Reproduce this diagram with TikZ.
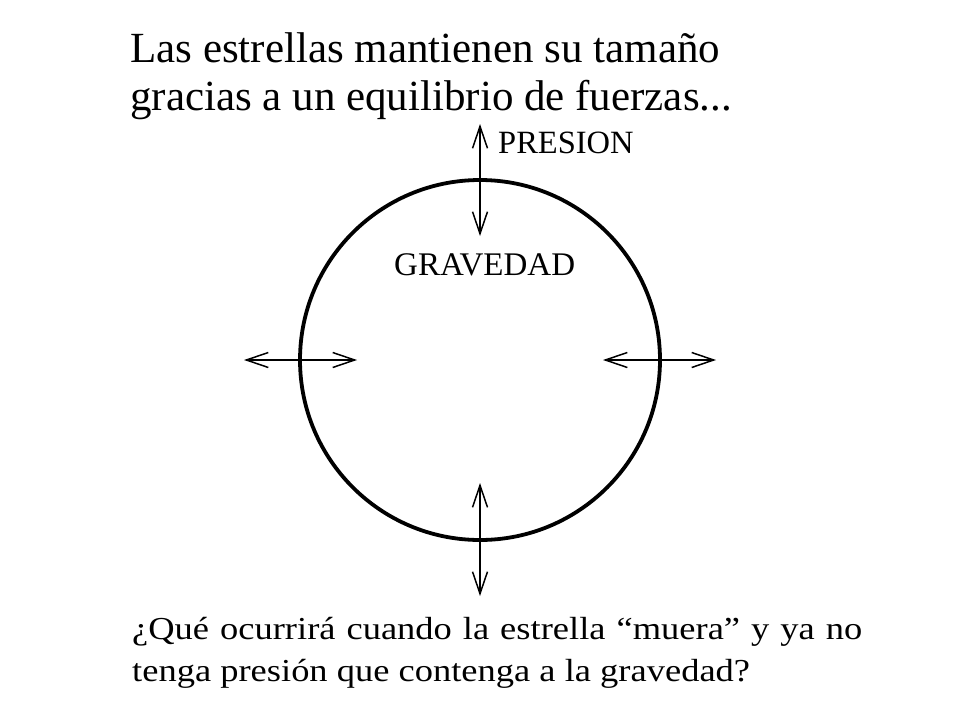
\documentclass[tikz,border=0pt]{standalone}
\usepackage{fontspec}
\setmainfont{Liberation Serif}
\newfontfamily\widefont[FakeStretch=1.14]{Liberation Serif}
\usetikzlibrary{arrows.meta,positioning}

\begin{document}
\begin{tikzpicture}[x=1pt, y=-1pt, >={Straight Barb[length=22pt,width=15pt]}]
      \useasboundingbox (0,0) rectangle (960,720);

      % Title
      \node[anchor=base west, inner sep=0pt, font=\fontsize{43}{48}\selectfont] (title1) at (130,62) {Las estrellas mantienen su tamaño};
      \node[anchor=base west, inner sep=0pt, font=\fontsize{43}{48}\selectfont] (title2) at (130,110) {gracias a un equilibrio de fuerzas...};

      % Star
      \node[circle, draw, line width=3.8pt, minimum size=360pt, inner sep=0pt, outer sep=0pt] (star) at (480,360) {};

      % Labels
      \node[anchor=base west, inner sep=0pt, font=\fontsize{32.5}{36}\selectfont] (presion) at (498,153) {PRESION};
      \node[anchor=base west, inner sep=0pt, font=\fontsize{33}{36}\selectfont] (gravedad) at (394,275) {GRAVEDAD};

      % Arrow ends
      \coordinate (topout) at (480,124);
      \coordinate (topin) at (480,236);
      \coordinate (leftout) at (244,360);
      \coordinate (leftin) at (357,360);
      \coordinate (rightin) at (603,360);
      \coordinate (rightout) at (716,360);
      \coordinate (botin) at (480,483);
      \coordinate (botout) at (480,596);

      % Pressure vs gravity
      \draw[<->, line width=1.5pt] (topout) -- (topin);
      \draw[<->, line width=1.5pt] (leftout) -- (leftin);
      \draw[<->, line width=1.5pt] (rightin) -- (rightout);
      \draw[<->, line width=1.5pt] (botin) -- (botout);

      % Question
      \node[anchor=base west, inner sep=0pt, font=\widefont\fontsize{32}{36}\selectfont] (quest1) at (132,639) {\makebox[730pt][s]{¿Qué ocurrirá cuando la estrella “muera” y ya no}};
      \node[anchor=base west, inner sep=0pt, font=\widefont\fontsize{32}{36}\selectfont] (quest2) at (132,681) {tenga presión que contenga a la gravedad?};
\end{tikzpicture}
\end{document}
